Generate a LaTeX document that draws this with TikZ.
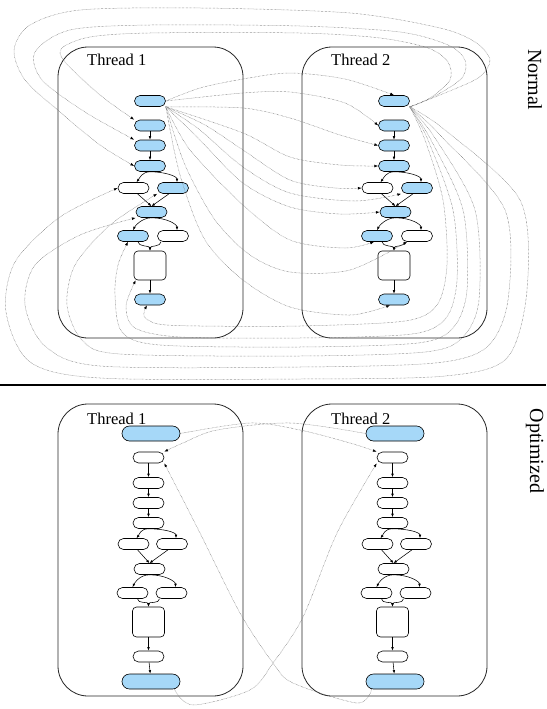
\documentclass[tikz,border=0pt]{standalone}
\usepackage{fontspec}
\setmainfont{Liberation Serif}
\usetikzlibrary{arrows.meta}
\definecolor{cellblue}{RGB}{166,216,248}
\begin{document}
\begin{tikzpicture}[x=1pt,y=-1pt,
  thbox/.style={draw=black!85, line width=0.8pt, rounded corners=30pt, inner sep=0pt},
  cell/.style={draw=black, line width=0.6pt, rounded corners=5.5pt, minimum width=31pt, minimum height=11pt, inner sep=0pt},
  bcell/.style={cell, fill=cellblue},
  wcell/.style={cell, fill=white},
  bigcell/.style={draw=black, line width=0.6pt, rounded corners=4pt, minimum width=32pt, minimum height=29pt, inner sep=0pt, fill=white},
  endcell/.style={draw=black, line width=0.6pt, rounded corners=7.5pt, minimum width=58pt, minimum height=15pt, inner sep=0pt, fill=cellblue},
  flow/.style={-{Latex[length=3.5pt,width=2.6pt]}, line width=0.55pt, black},
  dep/.style={-{Latex[length=3.8pt,width=2.8pt,black]}, line width=0.5pt, black!60, dash pattern=on 0.45pt off 0.9pt},
  ttl/.style={font=\fontsize{16.5}{18}\selectfont, inner sep=0pt, anchor=base west},
  side/.style={font=\fontsize{20}{22}\selectfont, inner sep=0pt, rotate=-90}
]
\useasboundingbox (0,0) rectangle (546,709);

% ---------- Normal: two threads ----------
\foreach \p/\dx/\n in {a/0/1,b/244/2}{
  \begin{scope}[xshift=\dx pt]
    \node[thbox, minimum width=185pt, minimum height=291pt] (\p box) at (150.5,192.5) {};
    \node[ttl] (\p ttl) at (87,66) {Thread \n};
    \node[bcell] (\p A) at (150,101) {};
    \node[bcell] (\p B) at (150,125.5) {};
    \node[bcell] (\p C) at (150,145.5) {};
    \node[bcell] (\p D) at (150,166) {};
    \node[wcell] (\p El) at (133.5,188) {};
    \node[bcell] (\p Er) at (173,188) {};
    \node[bcell] (\p F) at (151.5,212) {};
    \node[bcell] (\p Gl) at (133,236) {};
    \node[wcell] (\p Gr) at (173,236) {};
    \node[bigcell] (\p H) at (150,265.5) {};
    \node[bcell] (\p I) at (150,299.5) {};
    \draw[flow] (\p B) -- (\p C);
    \draw[flow] (\p C) -- (\p D);
    \draw[flow] (\p D.south) .. controls +(-8,0) and +(3,-4) .. ([xshift=3pt]\p El.north);
    \draw[flow] (\p D.south) .. controls +(15,0) and +(0,-6) .. ([xshift=4pt]\p Er.north);
    \draw[flow] ([xshift=4pt]\p El.south) -- (\p F.north);
    \draw[flow] ([xshift=-4pt]\p Er.south) -- (\p F.north);
    \draw[flow] (\p F.south) .. controls +(-10,0) and +(2,-4) .. (\p Gl.north);
    \draw[flow] (\p F.south) .. controls +(15,0) and +(0,-6) .. ([xshift=4pt]\p Gr.north);
    \draw[flow] ([xshift=5pt]\p Gl.south) .. controls +(0,5) and +(0,-5) .. (\p H.north);
    \draw[flow] ([xshift=-12pt]\p Gr.south) .. controls +(0,5) and +(0,-5) .. (\p H.north);
    \draw[flow] (\p H) -- (\p I);
  \end{scope}
}

% ---------- Optimized: two threads ----------
\foreach \p/\dx/\n in {c/0/1,d/244/2}{
  \begin{scope}[xshift=\dx pt]
    \node[thbox, minimum width=185pt, minimum height=292pt] (\p box) at (150.5,550) {};
    \node[ttl] (\p ttl) at (87,424) {Thread \n};
    \node[endcell] (\p top) at (151,433.5) {};
    \node[wcell] (\p w2) at (148.5,457.5) {};
    \node[wcell] (\p w3) at (148.5,483) {};
    \node[wcell] (\p w4) at (148.5,503) {};
    \node[wcell] (\p w5) at (148.5,523) {};
    \node[wcell] (\p r6l) at (133.5,544) {};
    \node[wcell] (\p r6r) at (172,544) {};
    \node[wcell] (\p r7) at (149.5,569) {};
    \node[wcell] (\p r8l) at (132.5,593) {};
    \node[wcell] (\p r8r) at (171.5,593) {};
    \node[bigcell, minimum height=30pt] (\p bx) at (148.5,622) {};
    \node[wcell] (\p sw) at (148.5,656.5) {};
    \node[endcell] (\p bot) at (151,681.5) {};
    \draw[flow] (\p w2) -- (\p w3);
    \draw[flow] (\p w3) -- (\p w4);
    \draw[flow] (\p w4) -- (\p w5);
    \draw[flow] (\p w5.south) .. controls +(-8,0) and +(3,-4) .. ([xshift=3pt]\p r6l.north);
    \draw[flow] (\p w5.south) .. controls +(15,0) and +(0,-6) .. ([xshift=4pt]\p r6r.north);
    \draw[flow] ([xshift=4pt]\p r6l.south) -- (\p r7.north);
    \draw[flow] ([xshift=-4pt]\p r6r.south) -- (\p r7.north);
    \draw[flow] (\p r7.south) .. controls +(-10,0) and +(2,-4) .. (\p r8l.north);
    \draw[flow] (\p r7.south) .. controls +(15,0) and +(0,-6) .. ([xshift=4pt]\p r8r.north);
    \draw[flow] ([xshift=5pt]\p r8l.south) .. controls +(0,5) and +(0,-5) .. (\p bx.north);
    \draw[flow] ([xshift=-12pt]\p r8r.south) .. controls +(0,5) and +(0,-5) .. (\p bx.north);
    \draw[flow] (\p bx) -- (\p sw);
    \draw[flow] (\p sw) -- (\p bot);
  \end{scope}
}

% ---------- section labels and divider ----------
\node[side] (lnormal) at (535,80) {Normal};
\node[side] (lopt) at (535,451) {Optimized};
\coordinate (divl) at (0,385);
\coordinate (divr) at (546,385);
\draw[line width=1.2pt] (divl) -- (divr);

% ---------- Normal: thread 1 head to thread 2 ----------
\draw[dep] plot[smooth] coordinates {(aA.east) (200,88) (243,79) (290,73) (345,79) (bA.north)};
\draw[dep] plot[smooth] coordinates {(aA.east) (243,93) (290,92) (345,103) (bB.west)};
\draw[dep] plot[smooth] coordinates {(aA.south east) (243,108) (290,118) (340,135) (bC.west)};
\draw[dep] plot[smooth] coordinates {(aA.south east) (243,133) (290,157) (340,165) (bD.west)};
\draw[dep] plot[smooth] coordinates {(aA.south east) (205,125) (243,150) (290,180) (335,188) (bEl.west)};
\draw[dep] plot[smooth] coordinates {(aA.south east) (200,130) (243,167) (290,193) (355,201) (bEr.south west)};
\draw[dep] plot[smooth] coordinates {(aA.south east) (195,135) (243,183) (290,207) (340,214) (bF.west)};
\draw[dep] plot[smooth] coordinates {(aA.south east) (190,150) (243,205) (290,240) (345,248) ([xshift=-3pt]bGl.south)};
\draw[dep] plot[smooth] coordinates {(aA.south east) (185,165) (215,220) (250,255) (290,272) (350,270) ([xshift=6pt]bGr.south west)};
\draw[dep] plot[smooth] coordinates {(aA.south east) (180,175) (205,240) (243,280) (290,307) (350,315) ([xshift=-4pt]bI.south)};

% ---------- Normal: thread 2 head over the top to thread 1 ----------
\draw[dep] plot[smooth] coordinates {(bA.south east) (440,95) (478,78) (490,60) (475,42) (440,28) (350,13) (200,8) (80,10) (30,25) (14,50) (25,80) (60,112) (100,145) (aD.west)};
\draw[dep] plot[smooth] coordinates {(bA.south east) (435,96) (462,78) (465,60) (448,45) (400,32) (300,26) (150,25) (70,30) (35,52) (42,80) (85,112) (aC.north west)};
\draw[dep] plot[smooth] coordinates {(bA.south east) (430,98) (450,80) (448,62) (428,48) (380,38) (300,33) (150,33) (90,37) (62,48) (65,62) (100,95) (aB.north west)};

% ---------- Normal: thread 2 head round the bottom to thread 1 ----------
\draw[dep] plot[smooth] coordinates {(bA.south east) (425,140) (443,200) (447,265) (437,305) (405,321) (300,326) (200,326) (158,324) (144,316) ([xshift=-3pt]aI.south)};
\draw[dep] plot[smooth] coordinates {(bA.south east) (428,140) (453,210) (457,280) (446,318) (412,334) (300,338) (180,337) (135,328) (126,306) ([xshift=2pt]aH.south west)};
\draw[dep] plot[smooth] coordinates {(bA.south east) (431,140) (463,210) (467,290) (453,328) (418,343) (300,347) (160,345) (122,332) (115,295) (118,265) ([xshift=-5pt]aGl.south)};
\draw[dep] plot[smooth] coordinates {(bA.south east) (435,138) (475,210) (479,300) (462,338) (425,352) (300,356) (120,354) (82,340) (67,305) (75,265) (110,225) (aEr.south west)};
\draw[dep] plot[smooth] coordinates {(bA.south east) (440,135) (505,210) (508,300) (487,347) (435,363) (300,367) (100,366) (45,346) (25,305) (35,265) (80,235) (aF.south west)};
\draw[dep] plot[smooth] coordinates {(bA.south east) (445,130) (520,200) (527,290) (507,358) (445,376) (300,379) (100,378) (30,362) (6,312) (15,262) (60,217) (aEl.west)};

% ---------- Optimized: cross-thread dependencies ----------
\draw[dep] plot[smooth] coordinates {(ctop.east) (250,423) (300,430) (350,443) (dw2.north west)};
\draw[dep] plot[smooth] coordinates {(dtop.west) (290,423) (217,430) (183,443) (cw2.north east)};
\draw[dep] plot[smooth] coordinates {([xshift=-6pt]cbot.south east) (193,705) (250,690) (273,663) (303,617) (337,533) (dw2.south west)};
\draw[dep] plot[smooth] coordinates {([xshift=6pt]dbot.south west) (357,703) (293,683) (273,663) (240,613) (200,533) (cw2.south east)};
\end{tikzpicture}
\end{document}
